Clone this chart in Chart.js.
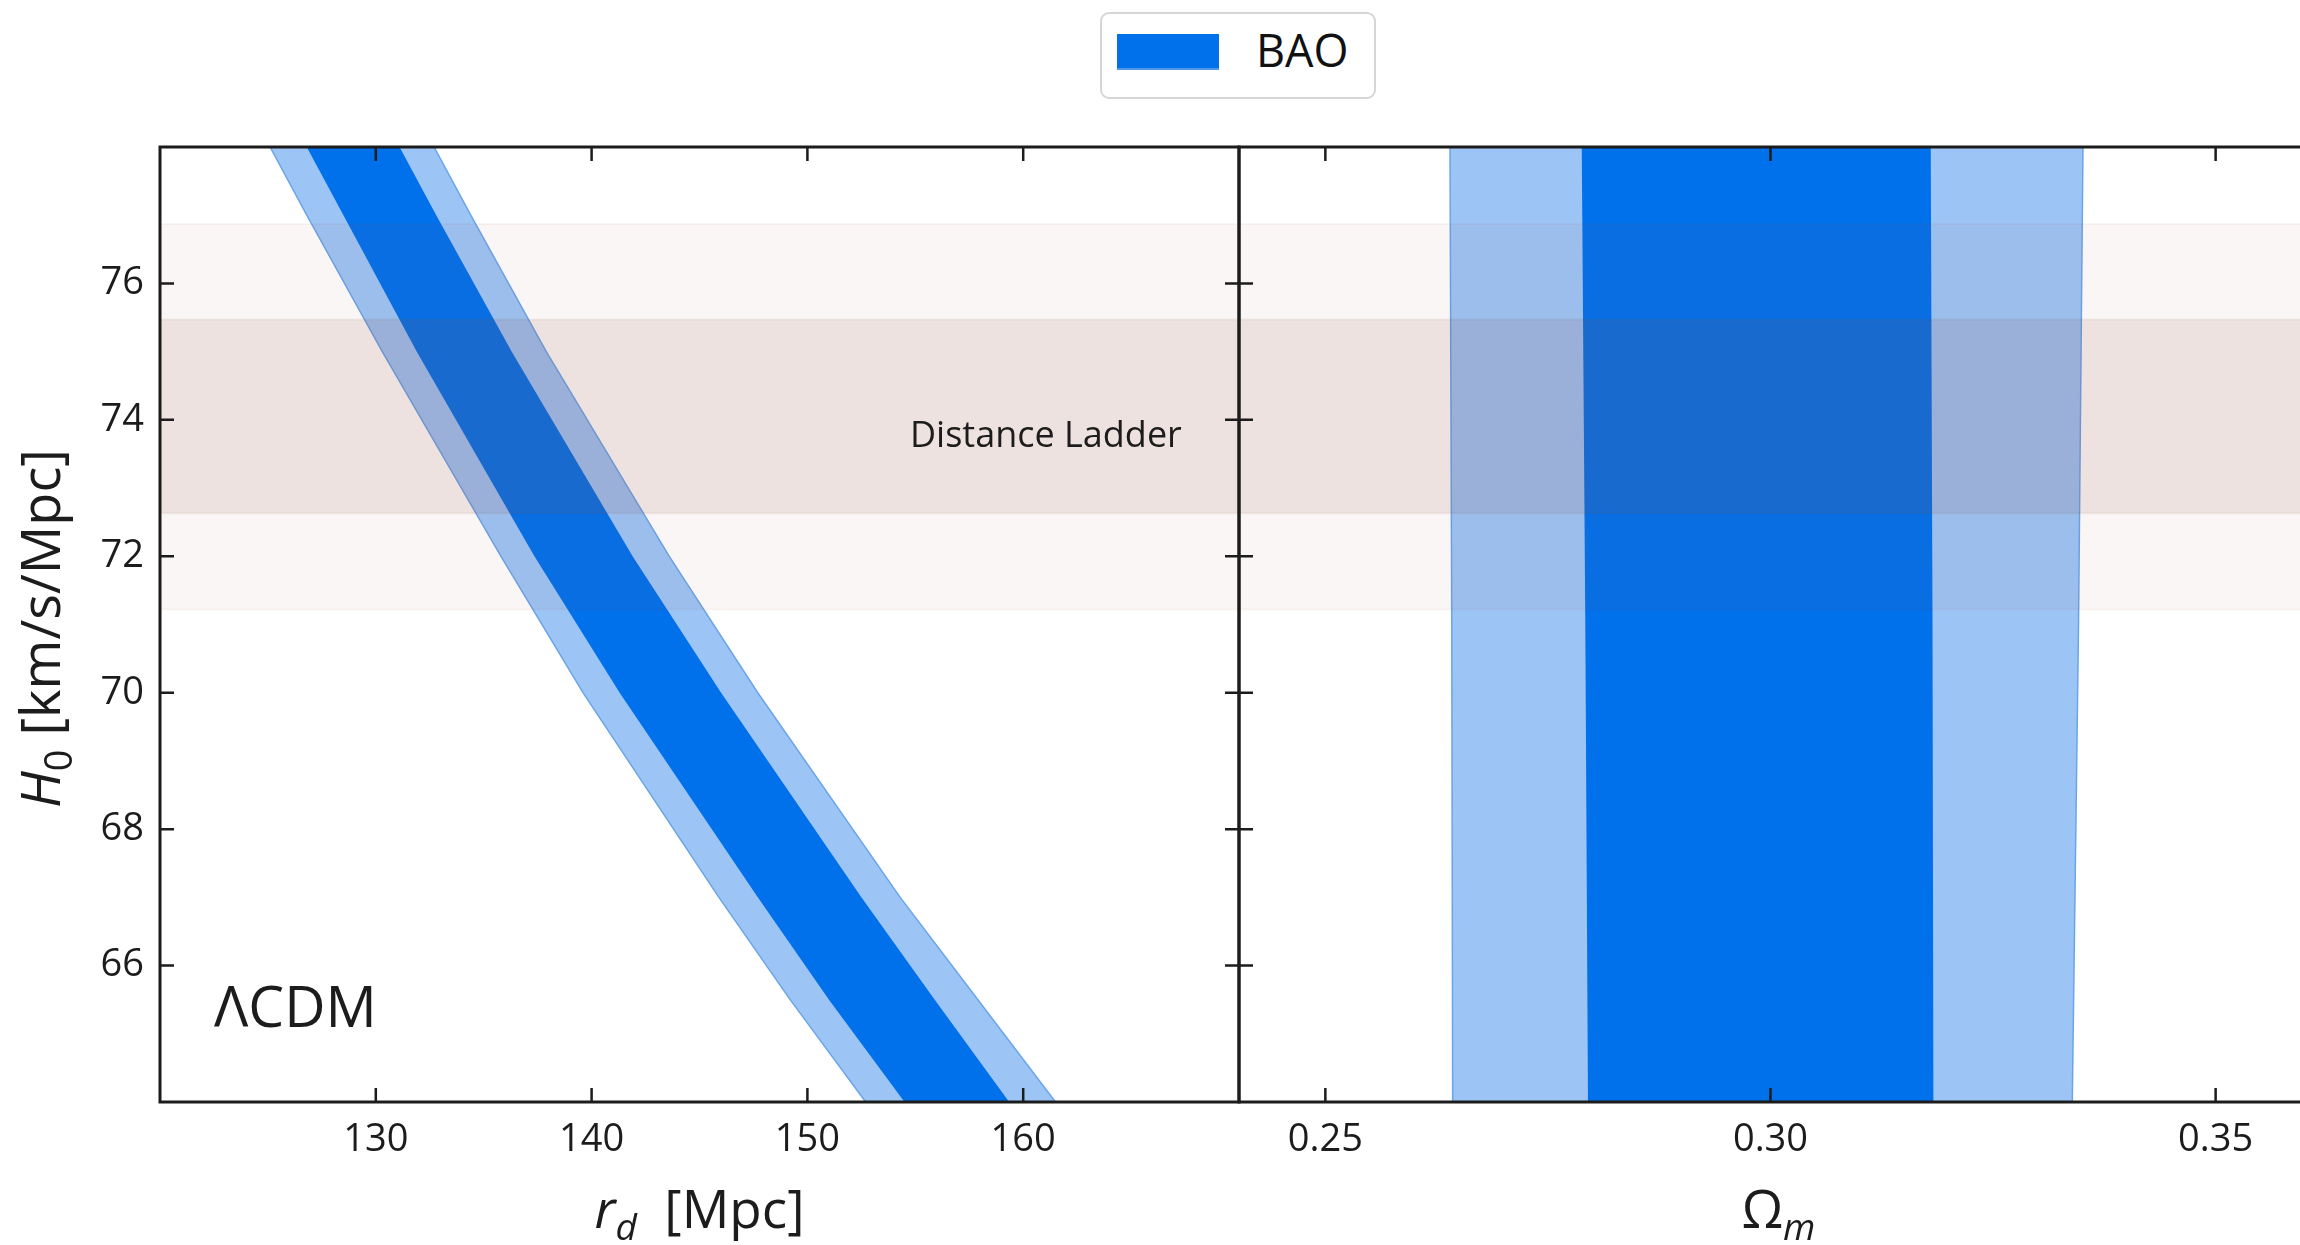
<!DOCTYPE html>
<html>
<head>
<meta charset="utf-8">
<title>BAO vs distance ladder</title>
<script src="https://cdn.jsdelivr.net/npm/chart.js@4.4.1/dist/chart.umd.min.js"></script>
<style>
  html, body { margin: 0; padding: 0; background: #fff; overflow: hidden; }
  #fig { position: relative; width: 2300px; height: 1245px; overflow: hidden; background: #fff; }
  #fig canvas { position: absolute; top: 0; }
  #left { left: 0; }
  #right { left: 1229px; }
  .legend {
    position: absolute; left: 1100px; top: 12px; width: 272px; height: 83px;
    border: 2px solid #d6d6d6; border-radius: 9px; background: #fff;
    font-family: 'Open Sans', sans-serif; color: #111;
  }
  .legend .patch {
    position: absolute; left: 15px; top: 20px; width: 102px; height: 36px;
    background: #0070eb; box-shadow: inset 0 -2px 0 #4f97ea;
  }
  .legend .label { position: absolute; left: 154px; top: 13px; font-size: 45px; line-height: 45px; }
</style>
</head>
<body>
<div id="fig">
  <canvas id="left" width="1250" height="1245"></canvas>
  <canvas id="right" width="1100" height="1245"></canvas>
  <div class="legend"><span class="patch"></span><span class="label" id="legendLabel"></span></div>
</div>
<script>
const FONT = "'Open Sans', 'DejaVu Sans', sans-serif";
const INK = '#1c1c1c';
const TICK_LEN = 14;

// r_d edges of the BAO band, read at these H0 rows
const h0Rows = [78, 77, 75, 72, 70, 67, 65.5, 64];
const rdOuterLo = [125.1, 126.8, 130.3, 135.8, 139.6, 145.9, 149.2, 152.7];
const rdInnerLo = [126.8, 128.5, 131.9, 137.35, 141.3, 147.7, 151.0, 154.5];
const rdInnerHi = [131.1, 132.8, 136.3, 141.9, 146.0, 152.5, 155.9, 159.35];
const rdOuterHi = [132.7, 134.4, 137.9, 143.6, 147.7, 154.3, 157.9, 161.5];

// Omega_m edges of the BAO band
const h0RowsOm = [78, 71, 64];
const omOuterLo = [0.2640, 0.2642, 0.2643];
const omInnerLo = [0.2788, 0.2792, 0.2795];
const omInnerHi = [0.3180, 0.3182, 0.3183];
const omOuterHi = [0.3351, 0.3346, 0.3339];

// distance ladder H0 intervals
const ladder68 = [72.63, 75.47];
const ladder95 = [71.22, 76.87];

const rdLimits = [120, 170];
const omLimits = [0.2403, 0.3615];
const h0Limits = [64, 78];
const rdTicks = [130, 140, 150, 160];
const omTicks = [0.25, 0.30, 0.35];
const h0Ticks = [66, 68, 70, 72, 74, 76];

const baoLabel = 'BAO';

document.getElementById('legendLabel').textContent = baoLabel;

function band(rows, lo, hi) {
    const a = lo.map((v, i) => ({ x: v, y: rows[i] }));
    const b = hi.map((v, i) => ({ x: v, y: rows[i] })).reverse();
    return a.concat(b);
}

function hband(xLim, yr) {
    return [
        { x: xLim[0], y: yr[0] }, { x: xLim[1], y: yr[0] },
        { x: xLim[1], y: yr[1] }, { x: xLim[0], y: yr[1] }
    ];
}

function shapeSet(label, data, fillColor, lineColor, lineWidth, order) {
    return {
        label: label,
        data: data,
        showLine: true,
        fill: 'shape',
        backgroundColor: fillColor,
        borderColor: lineColor,
        borderWidth: lineWidth,
        pointRadius: 0,
        clip: 0,
        order: order
    };
}

function makeSets(rows, outerLo, innerLo, innerHi, outerHi, xLim) {
    return [
        shapeSet('Distance Ladder 68%', hband(xLim, ladder68), 'rgba(140,85,70,0.12)', 'rgba(140,85,70,0.08)', 2, 0),
        shapeSet('Distance Ladder 95%', hband(xLim, ladder95), 'rgba(150,85,60,0.05)', 'rgba(150,85,60,0.05)', 2, 1),
        shapeSet(baoLabel + ' 68%', band(rows, innerLo, innerHi), '#0070eb', 'transparent', 0, 2),
        shapeSet(baoLabel + ' 95%', band(rows, outerLo, outerHi), '#9cc5f6', '#6aa4ea', 1.5, 3)
    ];
}

// mixed italic / subscript text, drawn from x on the baseline
function richWidth(ctx, parts, size) {
    let w = 0;
    for (const p of parts) {
        ctx.font = (p.it ? 'italic ' : '') + (p.sub ? size * 0.7 : size) + 'px ' + FONT;
        w += ctx.measureText(p.t).width;
    }
    return w;
}

function drawRich(ctx, parts, size, x, y) {
    let cx = x;
    for (const p of parts) {
        ctx.font = (p.it ? 'italic ' : '') + (p.sub ? size * 0.7 : size) + 'px ' + FONT;
        ctx.fillText(p.t, cx, y + (p.sub ? size * 0.22 : 0));
        cx += ctx.measureText(p.t).width;
    }
}

// spines and inward tick marks on all four sides
const framePlugin = {
    id: 'frame',
    afterDatasetsDraw(chart, args, opts) {
        const { ctx, chartArea: a } = chart;
        const xs = chart.scales.x, ys = chart.scales.y;
        ctx.save();
        ctx.strokeStyle = INK;
        ctx.lineWidth = 2.5;
        ctx.beginPath();
        for (const v of opts.xTicks) {
            const px = xs.getPixelForValue(v);
            ctx.moveTo(px, a.bottom); ctx.lineTo(px, a.bottom - TICK_LEN);
            ctx.moveTo(px, a.top); ctx.lineTo(px, a.top + TICK_LEN);
        }
        for (const v of opts.yTicks) {
            const py = ys.getPixelForValue(v);
            ctx.moveTo(a.left, py); ctx.lineTo(a.left + TICK_LEN, py);
            ctx.moveTo(a.right, py); ctx.lineTo(a.right - TICK_LEN, py);
        }
        ctx.stroke();
        ctx.lineWidth = 3;
        ctx.strokeRect(a.left, a.top, a.right - a.left, a.bottom - a.top);
        ctx.restore();
    }
};

// axis titles and in-panel labels
const labelPlugin = {
    id: 'labels',
    afterDraw(chart, args, opts) {
        const { ctx, chartArea: a } = chart;
        const xs = chart.scales.x, ys = chart.scales.y;
        ctx.save();
        ctx.fillStyle = INK;
        ctx.textBaseline = 'alphabetic';
        ctx.textAlign = 'left';

        if (opts.xTitle) {
            const w = richWidth(ctx, opts.xTitle, 53);
            drawRich(ctx, opts.xTitle, 53, (a.left + a.right) / 2 - w / 2, chart.height - 17);
        }
        if (opts.yTitle) {
            const w = richWidth(ctx, opts.yTitle, 54);
            ctx.save();
            ctx.translate(60, (a.top + a.bottom) / 2 + 4);
            ctx.rotate(-Math.PI / 2);
            drawRich(ctx, opts.yTitle, 54, -w / 2, 0);
            ctx.restore();
        }
        for (const n of opts.notes || []) {
            ctx.font = n.size + 'px ' + FONT;
            ctx.textAlign = n.align;
            const px = n.fx !== undefined ? a.left + n.fx * (a.right - a.left) : xs.getPixelForValue(n.x);
            const py = n.fy !== undefined ? a.bottom - n.fy * (a.bottom - a.top) : ys.getPixelForValue(n.y);
            ctx.fillText(n.text, px, py);
        }
        ctx.restore();
    }
};

function tickFont() {
    return { family: FONT, size: 38 };
}

// left panel: r_d vs H0
new Chart(document.getElementById('left'), {
    type: 'scatter',
    data: { datasets: makeSets(h0Rows, rdOuterLo, rdInnerLo, rdInnerHi, rdOuterHi, rdLimits) },
    options: {
        responsive: false,
        animation: false,
        events: [],
        layout: { padding: { top: 147, right: 11, left: 0, bottom: 0 } },
        plugins: {
            legend: { display: false },
            tooltip: { enabled: false },
            frame: { xTicks: rdTicks, yTicks: h0Ticks },
            labels: {
                xTitle: [{ t: 'r', it: true }, { t: 'd', it: true, sub: true }, { t: '  [Mpc]' }],
                yTitle: [{ t: 'H', it: true }, { t: '0', sub: true }, { t: ' [km/s/Mpc]' }],
                notes: [
                    { text: 'Distance Ladder', x: 167.35, y: 73.6, size: 36, align: 'right' },
                    { text: 'ΛCDM', fx: 0.05, fy: 0.0785, size: 57, align: 'left' }
                ]
            }
        },
        scales: {
            x: {
                type: 'linear', min: rdLimits[0], max: rdLimits[1],
                afterBuildTicks: s => { s.ticks = rdTicks.map(v => ({ value: v })); },
                afterFit: s => { s.height = 143; },
                grid: { display: false, drawTicks: false },
                border: { display: false },
                ticks: { font: tickFont(), color: INK, padding: 15, maxRotation: 0 }
            },
            y: {
                type: 'linear', min: h0Limits[0], max: h0Limits[1],
                afterBuildTicks: s => { s.ticks = h0Ticks.map(v => ({ value: v })); },
                afterFit: s => { s.width = 160; },
                grid: { display: false, drawTicks: false },
                border: { display: false },
                ticks: { font: tickFont(), color: INK, padding: 16 }
            }
        }
    },
    plugins: [framePlugin, labelPlugin]
});

// right panel: Omega_m vs H0
new Chart(document.getElementById('right'), {
    type: 'scatter',
    data: { datasets: makeSets(h0RowsOm, omOuterLo, omInnerLo, omInnerHi, omOuterHi, omLimits) },
    options: {
        responsive: false,
        animation: false,
        events: [],
        layout: { padding: { top: 147, right: 11, left: 10, bottom: 0 } },
        plugins: {
            legend: { display: false },
            tooltip: { enabled: false },
            frame: { xTicks: omTicks, yTicks: h0Ticks },
            labels: {
                xTitle: [{ t: 'Ω' }, { t: 'm', it: true, sub: true }]
            }
        },
        scales: {
            x: {
                type: 'linear', min: omLimits[0], max: omLimits[1],
                afterBuildTicks: s => { s.ticks = omTicks.map(v => ({ value: v })); },
                afterFit: s => { s.height = 143; },
                grid: { display: false, drawTicks: false },
                border: { display: false },
                ticks: { font: tickFont(), color: INK, padding: 15, maxRotation: 0, callback: v => v.toFixed(2) }
            },
            y: {
                type: 'linear', min: h0Limits[0], max: h0Limits[1],
                display: false
            }
        }
    },
    plugins: [framePlugin, labelPlugin]
});
</script>
</body>
</html>
